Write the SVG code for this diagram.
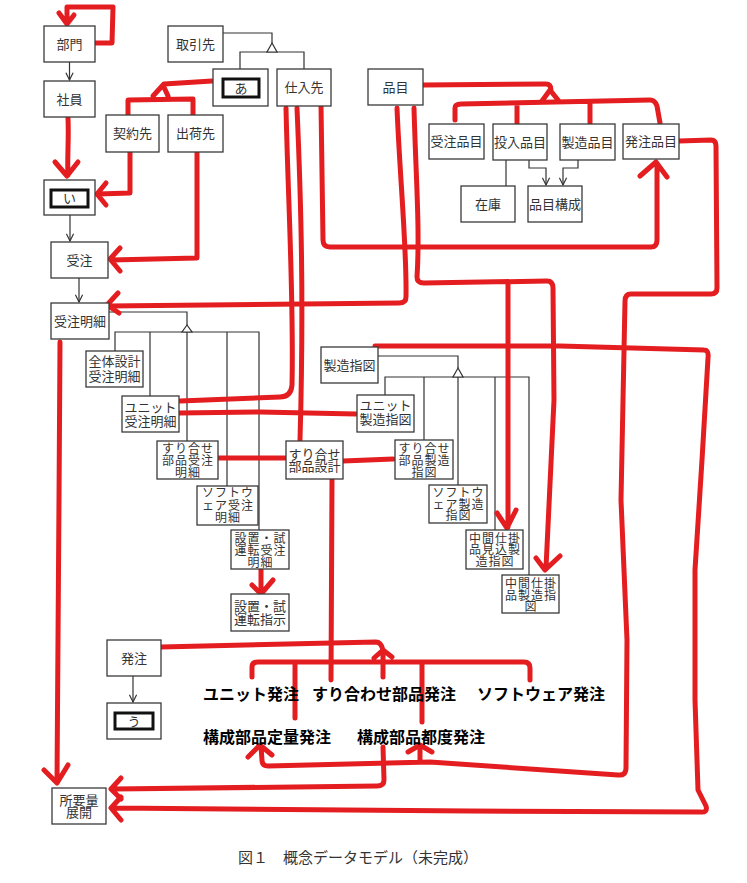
<svg xmlns="http://www.w3.org/2000/svg" width="747" height="883" viewBox="0 0 747 883">
<defs>
<style>
.b{fill:#fff;stroke:#3a3a3a;stroke-width:1.3}
.in{fill:#fff;stroke:#111;stroke-width:3}
.t{font-family:"Noto Sans CJK JP","Noto Sans",sans-serif;font-size:13px;fill:#333;text-anchor:middle}
.s{font-size:12px;letter-spacing:1px}
.k{fill:none;stroke:#333;stroke-width:1.2}
.tri{fill:#fff;stroke:#333;stroke-width:1.2}
.r{fill:none;stroke:#e41e20;stroke-width:5;stroke-linecap:round;stroke-linejoin:round}
.L{font-family:"Noto Sans CJK JP","Noto Sans",sans-serif;font-size:16px;font-weight:bold;fill:#000}
.cap{font-family:"Noto Sans CJK JP","Noto Sans",sans-serif;font-size:15px;fill:#333;text-anchor:middle}
</style>
<marker id="ar" viewBox="0 0 10 10" refX="9" refY="5" markerWidth="9" markerHeight="9" markerUnits="userSpaceOnUse" orient="auto">
<path d="M1,1 L9,5 L1,9" fill="none" stroke="#333" stroke-width="1.3"/>
</marker>
</defs>
<rect width="747" height="883" fill="#fff"/>

<g id="connectors">
<g id="black">
<path class="k" d="M69.5,62 V80" marker-end="url(#ar)"/>
<path class="k" d="M70,215 V241" marker-end="url(#ar)"/>
<path class="k" d="M79,278 V302" marker-end="url(#ar)"/>
<path class="k" d="M133,676 V702" marker-end="url(#ar)"/>
<path class="k" d="M529,160 V168 H546 V185" marker-end="url(#ar)"/>
<path class="k" d="M578,160 V168 H563 V185" marker-end="url(#ar)"/>
<path class="k" d="M506,160 V186"/>
<path class="k" d="M223,33 H272 V43"/>
<path class="k" d="M240,69 V52 H304 V69"/>
<polygon class="tri" points="272,43 267,52 277,52"/>
<path class="k" d="M109,312 H187 V325"/>
<path class="k" d="M115,351 V332 H259 V530 M150,332 V396 M187,332 V441 M227,332 V486"/>
<polygon class="tri" points="187,325 182,332 192,332"/>
<path class="k" d="M378,356 H458 V368"/>
<path class="k" d="M385,395 V377 H529 V575 M424,377 V440 M458,377 V485 M495,377 V530"/>
<polygon class="tri" points="458,368 453,377 463,377"/>
</g>
<g id="red">
<path class="r" d="M95,43 L112,43 L113,7 L67,7 L67,22 M59,13 L67,24 L74,15"/>
<path class="r" d="M68,118 C69,140 67,160 68,175 M55,162 L67,176 L78,162"/>
<path class="r" d="M130,152 L130,193 L98,194 M106,183 L97,194 L106,205"/>
<path class="r" d="M197,152 L197,258 L111,260 M120,248 L110,259 L120,271"/>
<path class="r" d="M212,81 L164,84 M153,96 L163,85 L168,96 M128,114 L128,100 L193,99 L193,115"/>
<path class="r" d="M286,108 C288,200 294,300 292,385 Q291,397 280,397 L180,401"/>
<path class="r" d="M297,108 C301,200 304,300 300,440"/>
<path class="r" d="M321,105 L323,240 Q323,247 330,247 L651,247 Q657,247 657,240 L657,165 M640,176 L656,162 L667,177"/>
<path class="r" d="M423,85 L546,84 Q551,84 551,90 M542,101 L550,90 L558,100"/>
<path class="r" d="M455,120 L455,108 Q455,104 461,104 L650,100 Q655,100 657,106 L660,123 M517,104 L517,123 M590,102 L590,123"/>
<path class="r" d="M397,108 C400,180 407,250 406,297 Q406,303 399,303 L108,306 M118,293 L107,305 L119,313"/>
<path class="r" d="M414,108 C416,180 420,230 417,277 Q417,283 424,283 L547,281 Q553,281 553,288 L554,400 L546,568 M536,558 L545,570 L560,556 M508,283 L508,527 M497,513 L507,528 L516,510"/>
<path class="r" d="M375,346 L560,346 L704,350 Q709,350 708,358 L702,460 L695,570 L695,700 L698,790 L706,806 Q708,813 700,812 L470,811 L113,808 M121,797 L111,808 L121,820"/>
<path class="r" d="M679,141 L711,140 Q716,140 716,146 L717,288 Q717,294 711,294 L631,294 Q625,294 625,301 L621,500 L627,640 L626,768 Q626,776 618,775 L430,762 L268,766 Q262,766 262,760 L261,747 M248,757 L260,745 L272,755 M420,762 L420,747 M408,752 L420,745 L432,752"/>
<path class="r" d="M332,479 L331,680"/>
<path class="r" d="M161,647 L376,642 Q381,642 383,650 M374,658 L383,650 L392,657 M252,677 L252,667 Q252,662 258,662 L524,662 Q530,662 530,668 L530,680 M383,650 L383,677 M295,662 L295,718 M422,662 L422,722"/>
<path class="r" d="M179,413 L260,412 L356,414"/>
<path class="r" d="M218,458 L285,458"/>
<path class="r" d="M343,461 L393,459"/>
<path class="r" d="M261,569 L261,592 M252,585 L261,594 L273,580"/>
<path class="r" d="M60,342 L59,500 L57,782 M44,770 L57,783 L68,765"/>
<path class="r" d="M383,747 L384,780 Q384,786 377,786 L113,789 M121,778 L111,789 L121,799"/>
</g>
</g>

<g id="n-bumon"><rect class="b" x="44" y="26" width="51" height="36"/><text class="t" x="69.5" y="48.5">部門</text></g>
<g id="n-shain"><rect class="b" x="44" y="81" width="51" height="36"/><text class="t" x="69.5" y="103.5">社員</text></g>
<g id="n-i"><rect class="b" x="44" y="180" width="51" height="35"/><rect class="in" x="51" y="190" width="37" height="17"/><text class="t" x="69.5" y="203">い</text></g>
<g id="n-juchu"><rect class="b" x="51" y="242" width="57" height="36"/><text class="t" x="79.5" y="264.5">受注</text></g>
<g id="n-juchumeisai"><rect class="b" x="51" y="303" width="58" height="36"/><text class="t" x="80" y="325.5">受注明細</text></g>
<g id="n-torihikisaki"><rect class="b" x="168" y="26" width="55" height="36"/><text class="t" x="195.5" y="48.5">取引先</text></g>
<g id="n-a"><rect class="b" x="213" y="69" width="55" height="37"/><rect class="in" x="223" y="79" width="36" height="18"/><text class="t" x="241" y="92.5">あ</text></g>
<g id="n-shiiresaki"><rect class="b" x="277" y="69" width="54" height="37"/><text class="t" x="304" y="92">仕入先</text></g>
<g id="n-keiyakusaki"><rect class="b" x="106" y="115" width="53" height="37"/><text class="t" x="132.5" y="138">契約先</text></g>
<g id="n-shukkasaki"><rect class="b" x="168" y="115" width="55" height="37"/><text class="t" x="195.5" y="138">出荷先</text></g>
<g id="n-hinmoku"><rect class="b" x="368" y="69" width="55" height="36"/><text class="t" x="395.5" y="91.5">品目</text></g>
<g id="n-juchuhinmoku"><rect class="b" x="429" y="124" width="55" height="35"/><text class="t" x="456.5" y="146">受注品目</text></g>
<g id="n-tonyuhinmoku"><rect class="b" x="493" y="124" width="54" height="36"/><text class="t" x="520" y="146.5">投入品目</text></g>
<g id="n-seizohinmoku"><rect class="b" x="560" y="124" width="55" height="36"/><text class="t" x="587.5" y="146.5">製造品目</text></g>
<g id="n-hatchuhinmoku"><rect class="b" x="623" y="124" width="56" height="35"/><text class="t" x="651" y="146">発注品目</text></g>
<g id="n-zaiko"><rect class="b" x="461" y="186" width="54" height="36"/><text class="t" x="488" y="208.5">在庫</text></g>
<g id="n-hinmokukosei"><rect class="b" x="528" y="186" width="54" height="36"/><text class="t" x="555" y="208.5">品目構成</text></g>
<g id="n-zentai"><rect class="b" x="86" y="351" width="57" height="36"/><text class="t"><tspan x="114.5" y="366">全体設計</tspan><tspan x="114.5" y="381">受注明細</tspan></text></g>
<g id="n-unitjuchu"><rect class="b" x="122" y="396" width="57" height="36"/><text class="t"><tspan x="150.5" y="411.5">ユニット</tspan><tspan x="150.5" y="425.5">受注明細</tspan></text></g>
<g id="n-suriawasejuchu"><rect class="b" x="157" y="441" width="61" height="38"/><text class="t s"><tspan x="188" y="452.5">すり合せ</tspan><tspan x="188" y="464.5">部品受注</tspan><tspan x="188" y="476.5">明細</tspan></text></g>
<g id="n-softjuchu"><rect class="b" x="197" y="486" width="61" height="39"/><text class="t s"><tspan x="228" y="497">ソフトウ</tspan><tspan x="228" y="509.5">ェア受注</tspan><tspan x="228" y="521.5">明細</tspan></text></g>
<g id="n-setchijuchu"><rect class="b" x="231" y="530" width="58" height="39"/><text class="t s"><tspan x="260.5" y="542.5">設置・試</tspan><tspan x="260.5" y="554.5">運転受注</tspan><tspan x="260.5" y="566.5">明細</tspan></text></g>
<g id="n-setchishiji"><rect class="b" x="231" y="594" width="58" height="37"/><text class="t"><tspan x="260" y="611">設置・試</tspan><tspan x="260" y="623.5">運転指示</tspan></text></g>
<g id="n-seizosashizu"><rect class="b" x="321" y="347" width="57" height="36"/><text class="t" x="349.5" y="369.5">製造指図</text></g>
<g id="n-unitseizo"><rect class="b" x="357" y="395" width="57" height="37"/><text class="t"><tspan x="385.5" y="409.5">ユニット</tspan><tspan x="385.5" y="423.5">製造指図</tspan></text></g>
<g id="n-suriawasesekkei"><rect class="b" x="286" y="441" width="57" height="38"/><text class="t"><tspan x="314.5" y="458.5">すり合せ</tspan><tspan x="314.5" y="471">部品設計</tspan></text></g>
<g id="n-suriawaseseizo"><rect class="b" x="395" y="440" width="58" height="39"/><text class="t s"><tspan x="424.5" y="452.5">すり合せ</tspan><tspan x="424.5" y="464.5">部品製造</tspan><tspan x="424.5" y="476.5">指図</tspan></text></g>
<g id="n-softseizo"><rect class="b" x="429" y="485" width="58" height="38"/><text class="t s"><tspan x="458.5" y="497">ソフトウ</tspan><tspan x="458.5" y="508.5">ェア製造</tspan><tspan x="458.5" y="520">指図</tspan></text></g>
<g id="n-mikomi"><rect class="b" x="466" y="530" width="57" height="39"/><text class="t s"><tspan x="495" y="542.5">中間仕掛</tspan><tspan x="495" y="554">品見込製</tspan><tspan x="495" y="565.5">造指図</tspan></text></g>
<g id="n-shikakari"><rect class="b" x="502" y="575" width="57" height="38"/><text class="t s"><tspan x="531" y="587.5">中間仕掛</tspan><tspan x="531" y="599.5">品製造指</tspan><tspan x="531" y="611">図</tspan></text></g>
<g id="n-hatchu"><rect class="b" x="107" y="640" width="54" height="36"/><text class="t" x="134" y="662.5">発注</text></g>
<g id="n-u"><rect class="b" x="107" y="703" width="54" height="36"/><rect class="in" x="115" y="713" width="38" height="16"/><text class="t" x="134" y="725.5">う</text></g>
<g id="n-shoyoryo"><rect class="b" x="52" y="788" width="54" height="36"/><text class="t"><tspan x="79" y="804.5">所要量</tspan><tspan x="79" y="817">展開</tspan></text></g>

<g id="labels">
<text class="L" x="203" y="700">ユニット発注</text>
<text class="L" x="312" y="700">すり合わせ部品発注</text>
<text class="L" x="477" y="700">ソフトウェア発注</text>
<text class="L" x="203" y="743">構成部品定量発注</text>
<text class="L" x="357" y="743">構成部品都度発注</text>
</g>
<text class="cap" x="358" y="863">図１　概念データモデル（未完成）</text>
</svg>
